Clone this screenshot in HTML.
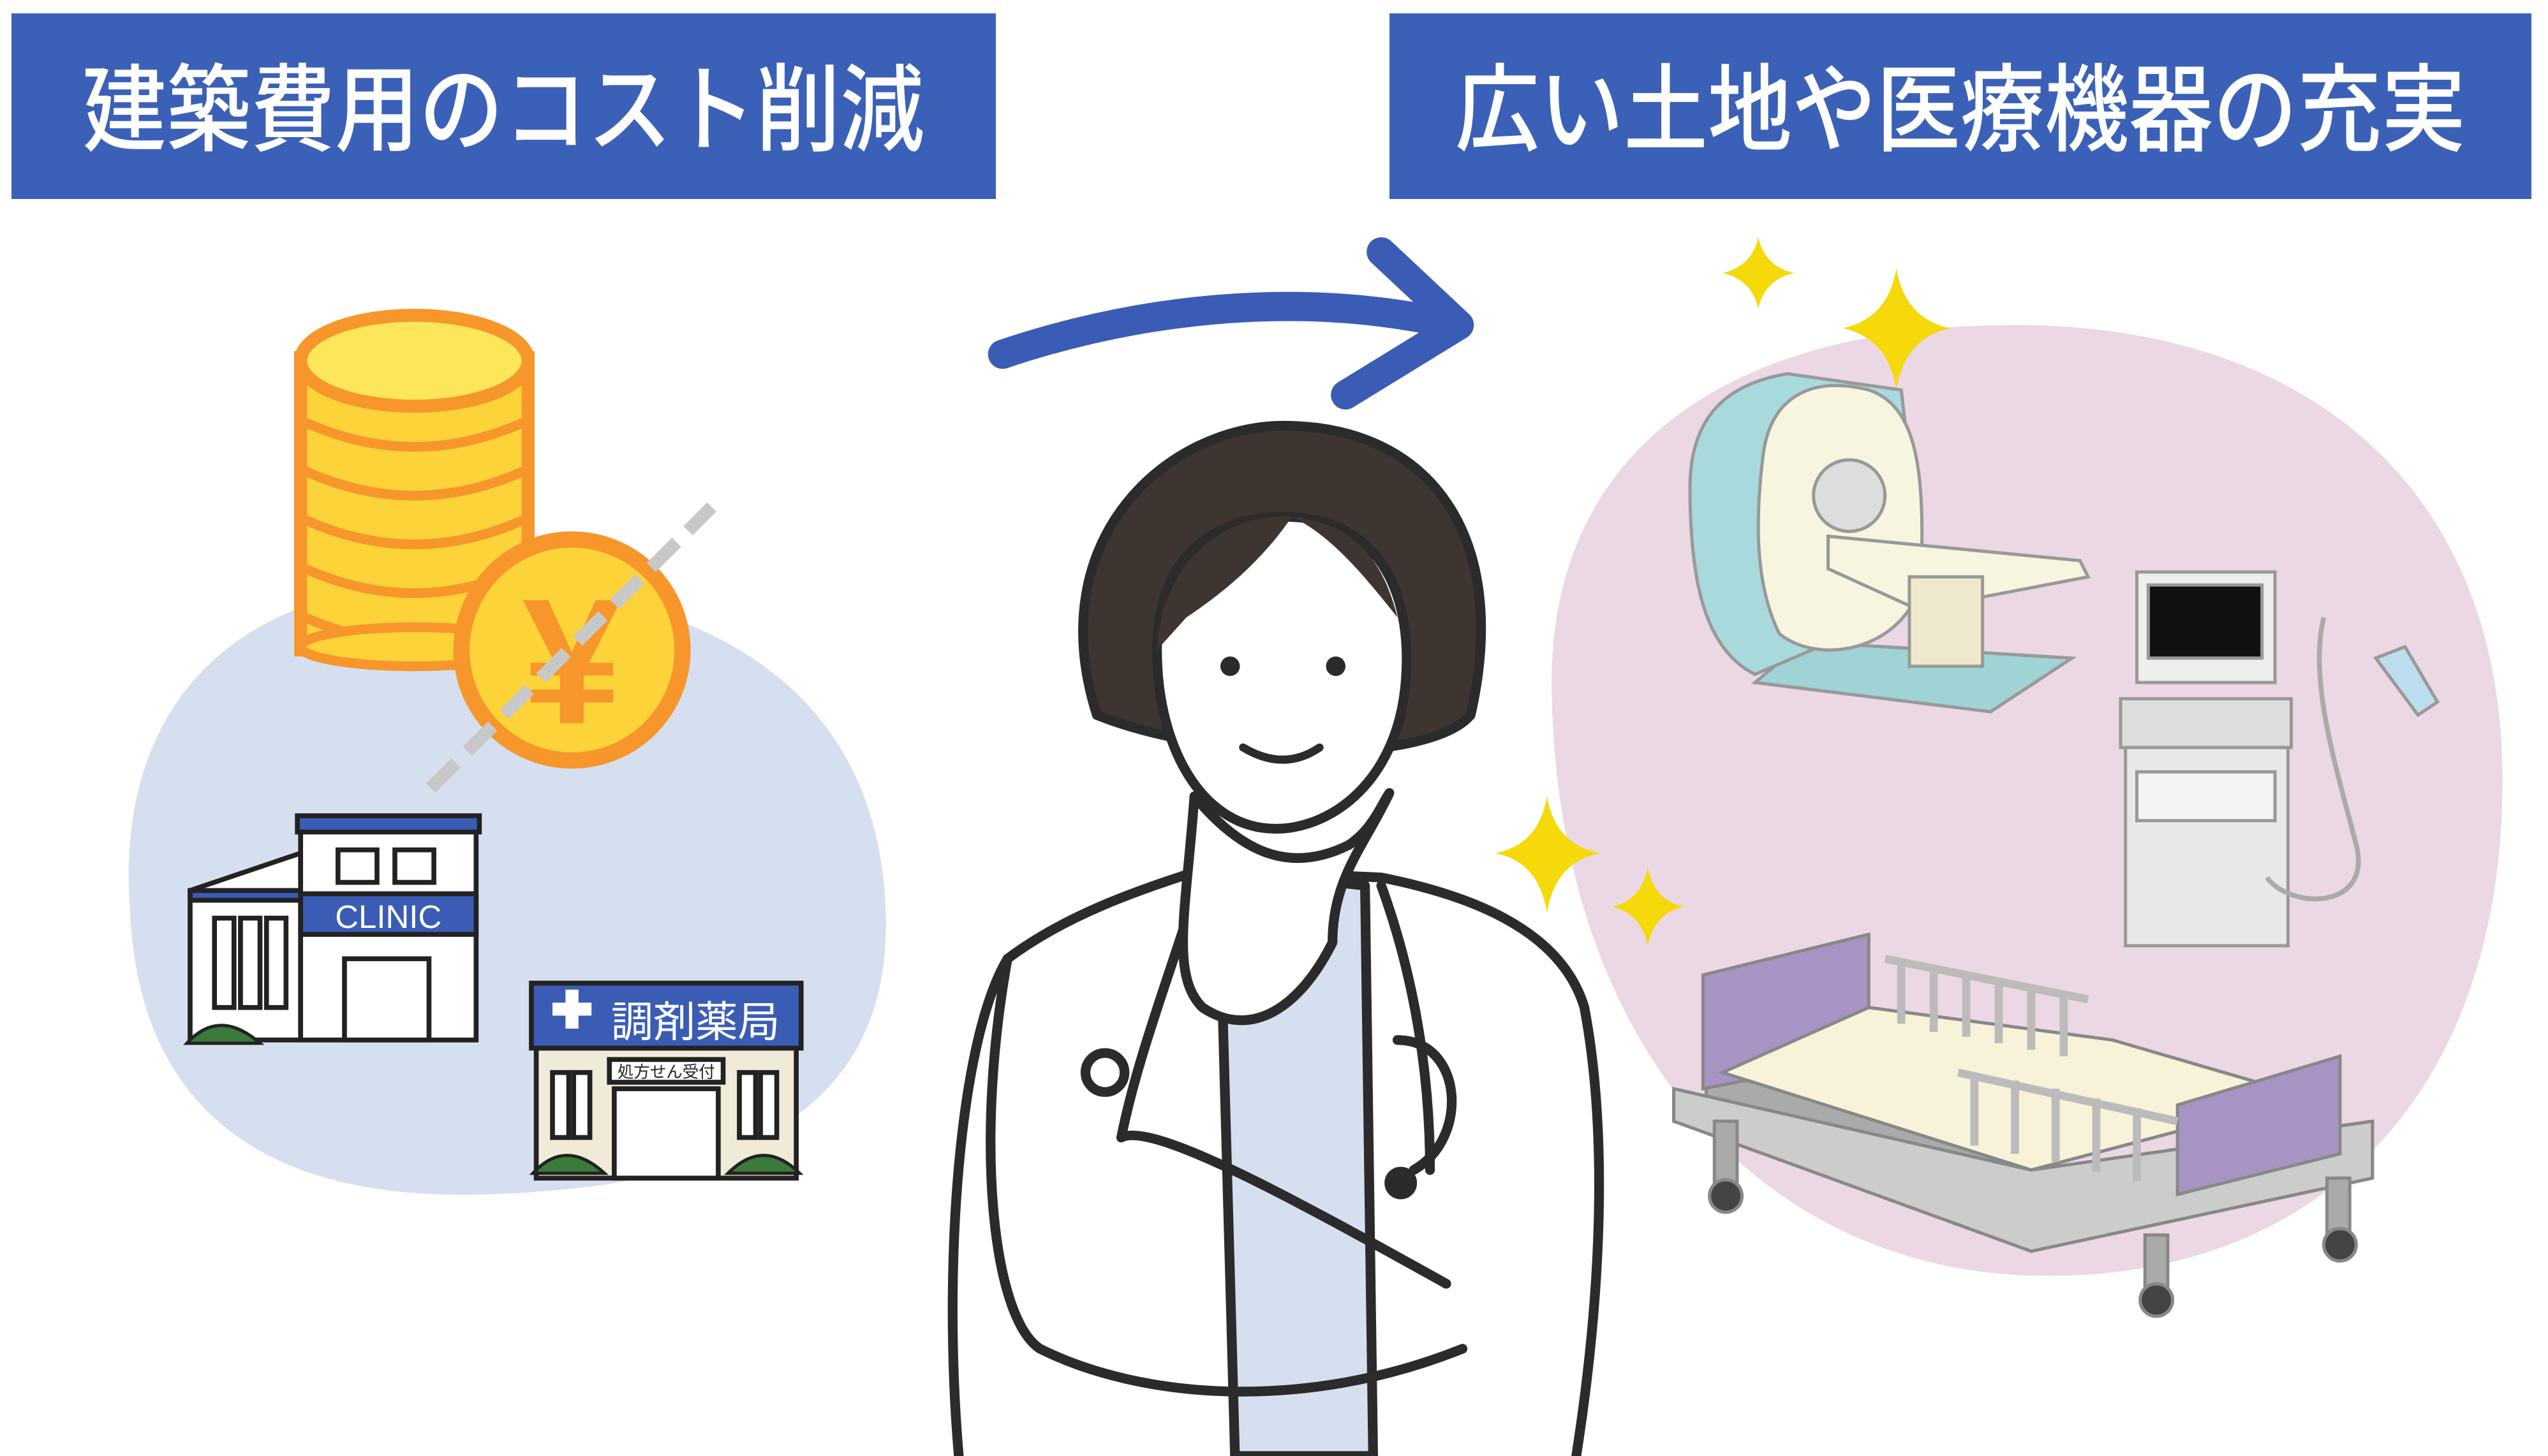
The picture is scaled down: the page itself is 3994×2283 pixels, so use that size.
<!DOCTYPE html>
<html><head><meta charset="utf-8"><style>
html,body{margin:0;padding:0;background:#fff;}
body{width:3994px;height:2283px;position:relative;overflow:hidden;font-family:"Liberation Sans","Noto Sans CJK JP",sans-serif;}
.hd{position:absolute;background:#3a61b7;color:#fff;top:21px;height:291px;display:flex;align-items:center;justify-content:center;font-size:150px;font-weight:500;white-space:nowrap;}
.hd span{display:inline-block;transform:scaleX(0.88);margin-top:-12px;}
svg{position:absolute;left:0;top:0;}
</style></head><body>
<svg width="3994" height="2283" viewBox="0 0 1568 896" preserveAspectRatio="none">
<path d="M80,560 C70,430 150,350 300,360 C430,365 540,420 545,560 C550,680 460,730 300,735 C160,740 85,680 80,560Z" fill="#d6dff0"/>
<path d="M955,430 C950,280 1060,200 1240,200 C1420,200 1540,300 1540,480 C1540,680 1420,790 1250,785 C1080,780 960,640 955,430Z" fill="#ecd7e5"/>
<path d="M617,218 C700,190 800,178 895,200" fill="none" stroke="#3a5cb5" stroke-width="18" stroke-linecap="round"/>
<path d="M850,155 L898,200 L828,243" fill="none" stroke="#3a5cb5" stroke-width="18" stroke-linecap="round" stroke-linejoin="round"/>
<g>
<rect x="185" y="220" width="140" height="180" fill="#fdd33a" stroke="#f7962b" stroke-width="8"/>
<g fill="none" stroke="#f7962b" stroke-width="6">
<path d="M188,260 Q255,290 322,260"/><path d="M188,290 Q255,320 322,290"/><path d="M188,320 Q255,350 322,320"/><path d="M188,350 Q255,380 322,350"/><path d="M188,380 Q255,410 322,380"/>
</g>
<ellipse cx="255" cy="398" rx="70" ry="12" fill="#fdd33a" stroke="#f7962b" stroke-width="6"/>
<ellipse cx="255" cy="222" rx="70" ry="28" fill="#fde65a" stroke="#f7962b" stroke-width="8"/>
<circle cx="352" cy="400" r="68" fill="#fdd33a" stroke="#f7962b" stroke-width="10"/>
<text x="352" y="445" font-size="110" font-weight="bold" text-anchor="middle" fill="#f7962b" font-family="Liberation Sans,sans-serif">¥</text>
<line x1="265" y1="485" x2="438" y2="312" stroke="#c8c8c8" stroke-width="8" stroke-dasharray="22 10"/>
</g>
<g stroke="#222" stroke-width="3">
<polygon points="117,548 185,525 185,640 117,640" fill="#fff"/>
<rect x="117" y="548" width="68" height="6" fill="#3a5cb5"/>
<rect x="185" y="505" width="108" height="135" fill="#fff"/>
<rect x="183" y="502" width="112" height="10" fill="#3a5cb5"/>
<rect x="185" y="550" width="108" height="25" fill="#3a5cb5"/>
<rect x="208" y="523" width="24" height="20" fill="#fff"/><rect x="243" y="523" width="24" height="20" fill="#fff"/>
<rect x="212" y="590" width="52" height="50" fill="#fff"/>
<rect x="132" y="565" width="12" height="55" fill="#fff"/><rect x="148" y="565" width="12" height="55" fill="#fff"/><rect x="164" y="565" width="12" height="55" fill="#fff"/>
</g>
<text x="239" y="571" font-size="20" fill="#fff" text-anchor="middle" font-family="Liberation Sans,sans-serif">CLINIC</text>
<path d="M115,642 Q135,620 160,642Z" fill="#3a7a3a" stroke="#222" stroke-width="2"/>
<g stroke="#222" stroke-width="3">
<rect x="330" y="645" width="160" height="80" fill="#f0ead8"/>
<rect x="327" y="605" width="166" height="40" fill="#3a5cb5"/>
<rect x="375" y="652" width="70" height="14" fill="#fff"/>
<rect x="378" y="670" width="64" height="55" fill="#fff"/>
<rect x="340" y="660" width="10" height="40" fill="#fff"/><rect x="353" y="660" width="10" height="40" fill="#fff"/>
<rect x="455" y="660" width="10" height="40" fill="#fff"/><rect x="468" y="660" width="10" height="40" fill="#fff"/>
</g>
<path d="M340,617 h8 v-8 h8 v8 h8 v8 h-8 v8 h-8 v-8 h-8z" fill="#fff"/>
<text x="428" y="638" font-size="26" fill="#fff" text-anchor="middle" font-family="Noto Sans CJK JP,sans-serif">調剤薬局</text>
<text x="410" y="663" font-size="10" fill="#222" text-anchor="middle" font-family="Noto Sans CJK JP,sans-serif">処方せん受付</text>
<path d="M328,722 Q348,700 372,722Z" fill="#3a7a3a" stroke="#222" stroke-width="2"/>
<path d="M448,722 Q470,700 492,722Z" fill="#3a7a3a" stroke="#222" stroke-width="2"/>
<g stroke="#2b2b2b" stroke-width="6" stroke-linejoin="round" stroke-linecap="round" fill="none">
<path d="M590,896 C580,780 590,640 620,590 C660,560 710,545 740,535 L850,540 C900,550 960,570 975,620 C990,700 985,800 970,896" fill="#fff"/>
<path d="M750,535 L760,896 L845,896 L840,545Z" fill="#d6dff0"/>
<path d="M675,440 C640,330 720,262 790,262 C880,262 930,330 905,440 C880,470 750,470 675,440Z" fill="#3e3530"/>
<path d="M712,400 C712,340 750,318 790,318 C845,318 870,360 865,420 C860,480 820,510 785,510 C740,510 712,460 712,400Z" fill="#fff"/>
<path d="M740,535 C720,600 700,650 690,700"/>
<path d="M850,545 C870,600 880,660 880,720"/>
<path d="M620,590 C600,700 610,810 640,830 C700,860 800,870 900,830"/>
<path d="M735,490 C760,520 790,540 830,520 C845,510 850,495 855,488 C840,520 820,540 820,580 C800,620 770,640 740,620 C720,600 730,560 735,490Z" fill="#fff"/>
<path d="M690,700 C710,690 800,740 890,790"/>
<circle cx="680" cy="660" r="12" fill="#fff"/>
<path d="M860,640 C900,640 905,700 870,720"/>
<circle cx="862" cy="728" r="7" fill="#2b2b2b"/>
</g>
<path d="M712,400 C715,340 760,315 795,318 C780,340 760,360 730,380Z" fill="#3e3530"/>
<path d="M795,318 C820,330 840,355 860,380 C850,340 830,322 795,318Z" fill="#3e3530"/>
<circle cx="757" cy="410" r="6" fill="#2b2b2b"/><circle cx="822" cy="410" r="6" fill="#2b2b2b"/>
<path d="M765,460 Q790,475 812,460" fill="none" stroke="#2b2b2b" stroke-width="5" stroke-linecap="round"/>
<g fill="#f5d90a">
<path d="M1082,146 Q1086,164 1104,168 Q1086,172 1082,190 Q1078,172 1060,168 Q1078,164 1082,146Z"/>
<path d="M1167,165 Q1172,196 1200,202 Q1172,208 1167,240 Q1162,208 1134,202 Q1162,196 1167,165Z"/>
<path d="M952,490 Q957,520 985,525 Q957,530 952,562 Q947,530 920,525 Q947,520 952,490Z"/>
<path d="M1014,534 Q1018,554 1036,558 Q1018,562 1014,582 Q1010,562 992,558 Q1010,554 1014,534Z"/>
</g>
<g stroke="#999" stroke-width="2">
<polygon points="1110,395 1275,405 1225,438 1080,420" fill="#9fd3d6"/>
<path d="M1040,300 C1040,250 1070,235 1100,230 L1170,240 L1185,370 L1080,415 C1050,400 1040,360 1040,300Z" fill="#a8dadd"/>
<path d="M1085,280 C1090,240 1120,232 1150,240 C1180,250 1185,290 1182,360 C1170,400 1120,410 1095,390 C1080,360 1080,320 1085,280Z" fill="#f7f4e0"/>
<circle cx="1138" cy="305" r="22" fill="#ddd"/>
<polygon points="1125,330 1280,345 1285,355 1180,375 1125,350" fill="#f7f4e0"/>
<rect x="1175" y="355" width="45" height="55" fill="#eee9cc"/>
</g>
<g stroke="#999" stroke-width="2">
<rect x="1315" y="352" width="85" height="68" fill="#eee"/>
<rect x="1322" y="360" width="70" height="45" fill="#111"/>
<rect x="1305" y="430" width="105" height="30" fill="#ddd"/>
<rect x="1308" y="460" width="100" height="122" fill="#e8e8e8"/>
<rect x="1315" y="475" width="85" height="30" fill="#f4f4f4"/>
<path d="M1430,380 C1420,420 1440,480 1450,520 C1460,560 1410,560 1395,540" fill="none" stroke="#aaa" stroke-width="3"/>
<polygon points="1462,405 1480,398 1500,432 1488,440" fill="#bde"/>
</g>
<g stroke="#888" stroke-width="2">
<polygon points="1050,650 1250,700 1250,740 1050,690" fill="#aaa"/>
<polygon points="1030,670 1250,720 1460,690 1460,725 1250,770 1030,690" fill="#ccc"/>
<polygon points="1048,600 1150,575 1150,650 1048,670" fill="#a894c4"/>
<polygon points="1060,660 1150,620 1300,640 1420,675 1250,720" fill="#f7f2d8"/>
<polygon points="1340,680 1440,650 1440,710 1340,735" fill="#a894c4"/>
<rect x="1055" y="690" width="14" height="40" fill="#aaa"/><rect x="1320" y="760" width="14" height="40" fill="#aaa"/><rect x="1432" y="725" width="14" height="40" fill="#aaa"/>
<circle cx="1062" cy="736" r="10" fill="#444"/><circle cx="1327" cy="800" r="10" fill="#444"/><circle cx="1440" cy="766" r="10" fill="#444"/>
</g>
<g fill="none" stroke="#bbb" stroke-width="5">
<path d="M1160,590 L1285,615 M1170,590 v40 M1190,595 v40 M1210,598 v40 M1230,602 v40 M1250,606 v40 M1270,610 v40"/>
<path d="M1205,660 L1340,690 M1215,660 v45 M1240,665 v45 M1265,670 v45 M1290,676 v45 M1315,682 v45"/>
</g>
</svg>
<div class="hd" style="left:18px;width:1543px;"><span>建築費用のコスト削減</span></div>
<div class="hd" style="left:2178px;width:1790px;"><span>広い土地や医療機器の充実</span></div>
</body></html>
